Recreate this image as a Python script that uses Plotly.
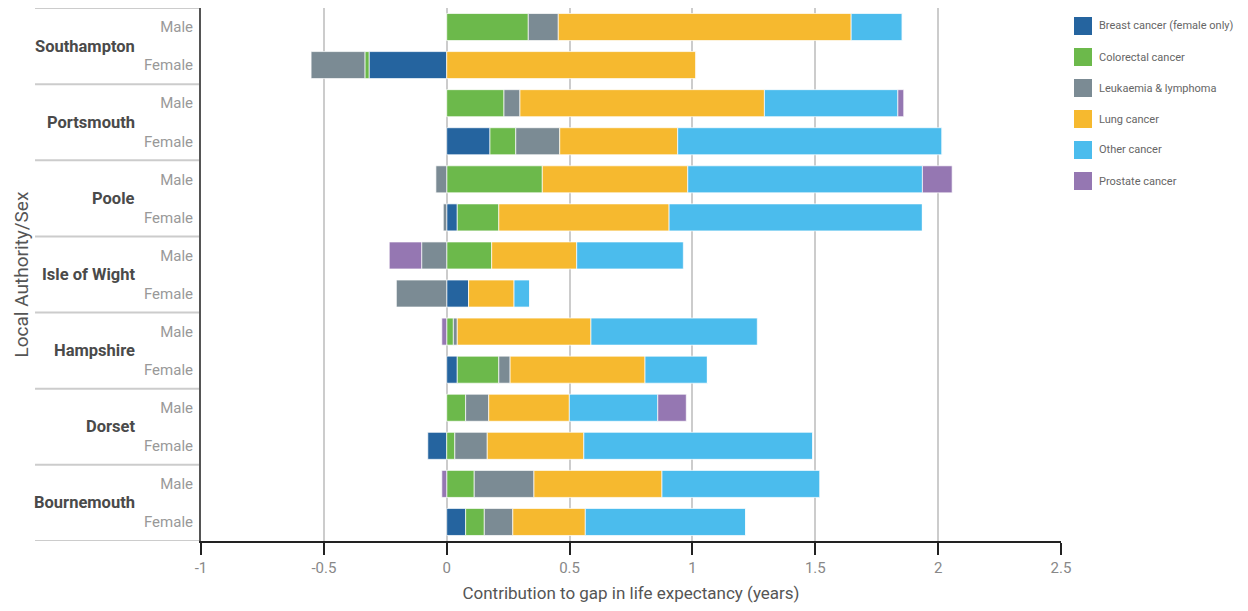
import plotly.graph_objects as go

authorities = ["Bournemouth", "Dorset", "Hampshire", "Isle of Wight", "Poole", "Portsmouth", "Southampton"]
sexes = ["Female", "Male"]

causes = ["Breast cancer (female only)", "Colorectal cancer", "Leukaemia & lymphoma",
          "Lung cancer", "Other cancer", "Prostate cancer"]
colors = ["#25649f", "#6cb94b", "#7b8b94", "#f6b92f", "#4bbced", "#9577b2"]

# values per row, order: Bournemouth F, Bournemouth M, Dorset F, Dorset M, Hampshire F, Hampshire M,
# Isle of Wight F, Isle of Wight M, Poole F, Poole M, Portsmouth F, Portsmouth M, Southampton F, Southampton M
breast     = [0.077, 0, -0.077, 0, 0.043, 0, 0.089, 0, 0.043, 0, 0.176, 0, -0.316, 0]
colorectal = [0.076, 0.112, 0.033, 0.077, 0.169, 0.027, 0, 0.183, 0.169, 0.389, 0.105, 0.233, -0.017, 0.332]
leukaemia  = [0.116, 0.243, 0.132, 0.094, 0.046, 0.016, -0.205, -0.102, -0.014, -0.044, 0.179, 0.065, -0.219, 0.122]
lung       = [0.295, 0.521, 0.393, 0.328, 0.549, 0.544, 0.185, 0.346, 0.693, 0.592, 0.480, 0.995, 1.015, 1.192]
other      = [0.653, 0.642, 0.932, 0.360, 0.254, 0.677, 0.064, 0.434, 1.031, 0.955, 1.076, 0.543, 0, 0.208]
prostate   = [0, -0.020, 0, 0.116, 0, -0.020, 0, -0.132, 0, 0.121, 0, 0.024, 0, 0]
series = [breast, colorectal, leukaemia, lung, other, prostate]

x_ticks = [-1, -0.5, 0, 0.5, 1, 1.5, 2, 2.5]
x_tick_labels = ["-1", "-0.5", "0", "0.5", "1", "1.5", "2", "2.5"]

rows = [(a, s) for a in authorities for s in sexes]
ypos = list(range(len(rows)))

FONT = "Roboto, Liberation Sans, sans-serif"

fig = go.Figure()
for name, vals, col in zip(causes, series, colors):
    fig.add_trace(go.Bar(
        y=ypos, x=vals, orientation="h", name=name,
        marker=dict(color=col, line=dict(color="rgba(255,255,255,0.7)", width=1)),
        width=0.71, showlegend=False,
    ))

shapes = []
for k in range(len(authorities) + 1):
    yb = -0.5 + 2 * k
    shapes.append(dict(type="line", xref="paper", yref="y", x0=-0.193, x1=0, y0=yb, y1=yb,
                       line=dict(color="#cccccc", width=2), layer="below"))

annotations = []
for i, a in enumerate(authorities):
    annotations.append(dict(xref="paper", yref="y", x=-0.074, y=2 * i + 0.5, text="<b>%s</b>" % a,
                            showarrow=False, xanchor="right", yanchor="middle",
                            font=dict(family=FONT, size=16.5, color="#4a4a4a")))
annotations.append(dict(xref="paper", yref="paper", x=-0.2093, y=0.5, text="Local Authority/Sex",
                        textangle=-90, showarrow=False, xanchor="center", yanchor="middle",
                        font=dict(family=FONT, size=19, color="#555555")))

# manual legend (plot area in page px: 201..1061 wide, 8..541 tall)
PW, PH, L, B = 860.0, 533.0, 201.0, 541.0
for j, (name, col) in enumerate(zip(causes, colors)):
    cy = 26 + 31 * j
    shapes.append(dict(type="rect", xref="paper", yref="paper",
                       x0=(1074 - L) / PW, x1=(1092 - L) / PW,
                       y0=(B - (cy + 9)) / PH, y1=(B - (cy - 9)) / PH,
                       fillcolor=col, line=dict(width=0)))
    annotations.append(dict(xref="paper", yref="paper", x=(1097 - L) / PW, y=(B - cy) / PH,
                            text=name, showarrow=False, xanchor="left", yanchor="middle",
                            font=dict(family=FONT, size=11, color="#666666")))

# page body has an 8px margin, so the figure is placed at (8, 8)
fig.update_layout(
    barmode="relative",
    width=1232, height=595,
    margin=dict(l=193, r=179, t=0, b=62, autoexpand=False),
    plot_bgcolor="white", paper_bgcolor="white",
    font=dict(family=FONT, color="#666666"),
    shapes=shapes, annotations=annotations,
    showlegend=False,
    xaxis=dict(range=[-1, 2.5], tickvals=x_ticks, ticktext=x_tick_labels, automargin=False,
               showgrid=True, gridcolor="#cccccc", gridwidth=2,
               zeroline=True, zerolinecolor="#cccccc", zerolinewidth=2,
               showline=True, linecolor="#222222", linewidth=2,
               ticks="outside", ticklen=12, tickwidth=2, tickcolor="#222222",
               tickfont=dict(family=FONT, size=15, color="#888888"),
               title=dict(text="Contribution to gap in life expectancy (years)",
                          font=dict(family=FONT, size=17, color="#555555"), standoff=22)),
    yaxis=dict(range=[-0.5, 13.5], tickvals=ypos, ticktext=[s for a, s in rows], automargin=False,
               showgrid=False, zeroline=False,
               showline=True, linecolor="#555555", linewidth=2,
               ticks="", ticklabelstandoff=3,
               tickfont=dict(family=FONT, size=15, color="#999999")),
)

fig.write_html("out.html")
